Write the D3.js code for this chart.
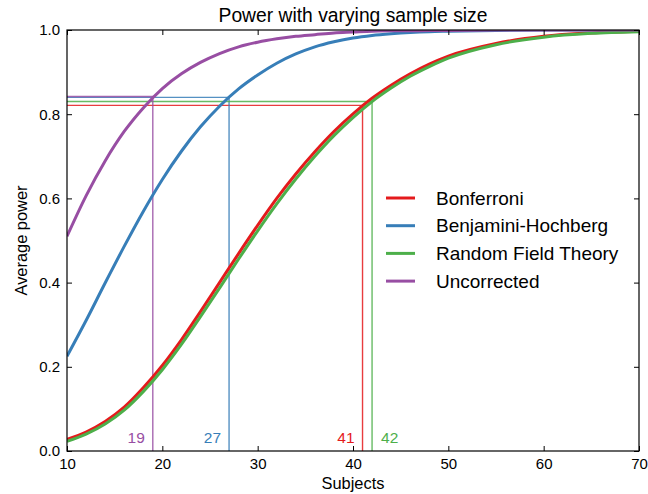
<!DOCTYPE html>
<html>
<head>
<meta charset="utf-8">
<script src="https://cdn.jsdelivr.net/npm/d3@7"></script>
<style>
  body { margin: 0; background: #fff; }
  svg text { font-family: "Liberation Sans", Arial, Helvetica, sans-serif; }
</style>
</head>
<body>
<div id="chart"></div>
<script>
'use strict';

// ─── Data ────────────────────────────────────────────────────────────────────
const subjects = [10, 12, 14, 16, 18, 20, 22, 24, 26, 28, 30, 32, 34, 36, 38, 40, 42, 44, 46, 48, 50, 55, 60, 65, 70];

const bonferroni = [0.028, 0.045, 0.070, 0.104, 0.150, 0.203, 0.264, 0.331, 0.400, 0.469, 0.536, 0.600, 0.658, 0.711, 0.759, 0.801, 0.838, 0.869, 0.896, 0.919, 0.938, 0.968, 0.985, 0.993, 0.997];
const benjaminiHochberg = [0.225, 0.310, 0.399, 0.486, 0.569, 0.645, 0.712, 0.770, 0.819, 0.860, 0.893, 0.921, 0.943, 0.960, 0.972, 0.981, 0.987, 0.991, 0.994, 0.996, 0.997, 0.999, 1.0, 1.0, 1.0];
const randomField = [0.023, 0.040, 0.064, 0.097, 0.141, 0.193, 0.253, 0.319, 0.387, 0.456, 0.523, 0.587, 0.646, 0.700, 0.749, 0.792, 0.830, 0.862, 0.890, 0.913, 0.933, 0.965, 0.983, 0.992, 0.996];
const uncorrected = [0.510, 0.606, 0.689, 0.759, 0.815, 0.861, 0.896, 0.923, 0.944, 0.960, 0.971, 0.979, 0.985, 0.989, 0.993, 0.995, 0.997, 0.998, 0.998, 0.999, 0.999, 1.0, 1.0, 1.0, 1.0];

const seriesNames  = ['Bonferroni', 'Benjamini-Hochberg', 'Random Field Theory', 'Uncorrected'];
const seriesColors = ['#e41a1c', '#377eb8', '#4daf4a', '#984ea3'];
const seriesValues = [bonferroni, benjaminiHochberg, randomField, uncorrected];

// subjects needed and the power reached there
const neededN     = [41, 27, 42, 19];
const neededPower = [0.821, 0.840, 0.830, 0.842];

const xTicks = [10, 20, 30, 40, 50, 60, 70];
const yTicks = [0.0, 0.2, 0.4, 0.6, 0.8, 1.0];

// ─── Layout ──────────────────────────────────────────────────────────────────
const W = 648, H = 494;
const M = { top: 30, right: 9, bottom: 43, left: 67 };
const iw = W - M.left - M.right;
const ih = H - M.top - M.bottom;

const x = d3.scaleLinear().domain([10, 70]).range([0, iw]);
const y = d3.scaleLinear().domain([0, 1]).range([ih, 0]);

const svg = d3.select('#chart').append('svg')
  .attr('width', W).attr('height', H);

const g = svg.append('g').attr('transform', `translate(${M.left},${M.top})`);

svg.append('defs').append('clipPath').attr('id', 'plot')
  .append('rect').attr('width', iw).attr('height', ih);

// ─── Reference lines (needed subjects) ───────────────────────────────────────
const refs = g.append('g').attr('clip-path', 'url(#plot)');
seriesNames.forEach((name, i) => {
  const px = x(neededN[i]), py = y(neededPower[i]);
  refs.append('path')
    .attr('d', `M${x(10)},${py}H${px}V${y(0)}`)
    .attr('fill', 'none')
    .attr('stroke', seriesColors[i])
    .attr('stroke-opacity', 0.85)
    .attr('stroke-width', 1.4);
});

// ─── Curves ──────────────────────────────────────────────────────────────────
const line = d3.line()
  .x((d, j) => x(subjects[j]))
  .y(d => y(d))
  .curve(d3.curveMonotoneX);

const curves = g.append('g').attr('clip-path', 'url(#plot)');
seriesValues.forEach((vals, i) => {
  curves.append('path')
    .attr('d', line(vals))
    .attr('fill', 'none')
    .attr('stroke', seriesColors[i])
    .attr('stroke-width', 3);
});

// ─── Value labels at the bottom ──────────────────────────────────────────────
seriesNames.forEach((name, i) => {
  const right = name === 'Random Field Theory';
  g.append('text')
    .attr('x', x(neededN[i]) + (right ? 9 : -8))
    .attr('y', ih - 8)
    .attr('text-anchor', right ? 'start' : 'end')
    .attr('font-size', 15.5)
    .attr('fill', seriesColors[i])
    .text(neededN[i]);
});

// ─── Axes (matplotlib classic: inward ticks on all sides) ────────────────────
const tickLen = 5;
const axB = g.append('g').attr('transform', `translate(0,${ih})`)
  .call(d3.axisBottom(x).tickValues(xTicks).tickSizeInner(-tickLen).tickSizeOuter(0).tickPadding(7).tickFormat(d3.format('d')));
const axT = g.append('g')
  .call(d3.axisTop(x).tickValues(xTicks).tickSizeInner(-tickLen).tickSizeOuter(0).tickFormat(''));
const axL = g.append('g')
  .call(d3.axisLeft(y).tickValues(yTicks).tickSizeInner(-tickLen).tickSizeOuter(0).tickPadding(7).tickFormat(d3.format('.1f')));
const axR = g.append('g').attr('transform', `translate(${iw},0)`)
  .call(d3.axisRight(y).tickValues(yTicks).tickSizeInner(-tickLen).tickSizeOuter(0).tickFormat(''));

[axB, axT, axL, axR].forEach(a => {
  a.select('.domain').remove();
  a.selectAll('.tick line').attr('stroke', '#000').attr('stroke-width', 1);
  a.selectAll('.tick text').attr('font-size', 15).attr('fill', '#000')
    .attr('font-family', '"Liberation Sans", Arial, sans-serif');
});

g.append('rect')
  .attr('width', iw).attr('height', ih)
  .attr('fill', 'none').attr('stroke', '#000').attr('stroke-width', 1.2);

// ─── Legend ──────────────────────────────────────────────────────────────────
const legend = g.append('g').attr('transform', `translate(${386 - M.left},${198 - M.top})`);
seriesNames.forEach((name, i) => {
  const row = legend.append('g').attr('transform', `translate(0,${i * 27.7})`);
  row.append('line')
    .attr('x1', 0).attr('x2', 29)
    .attr('stroke', seriesColors[i]).attr('stroke-width', 3);
  row.append('text')
    .attr('x', 50).attr('dy', '0.35em')
    .attr('font-size', 19)
    .text(name);
});

// ─── Titles ──────────────────────────────────────────────────────────────────
svg.append('text')
  .attr('x', M.left + iw / 2).attr('y', 22)
  .attr('text-anchor', 'middle').attr('font-size', 19.3)
  .text('Power with varying sample size');

svg.append('text')
  .attr('x', M.left + iw / 2).attr('y', 489)
  .attr('text-anchor', 'middle').attr('font-size', 16.4)
  .text('Subjects');

svg.append('text')
  .attr('transform', `translate(27,${M.top + ih / 2}) rotate(-90)`)
  .attr('text-anchor', 'middle').attr('font-size', 16.4)
  .text('Average power');
</script>
</body>
</html>
